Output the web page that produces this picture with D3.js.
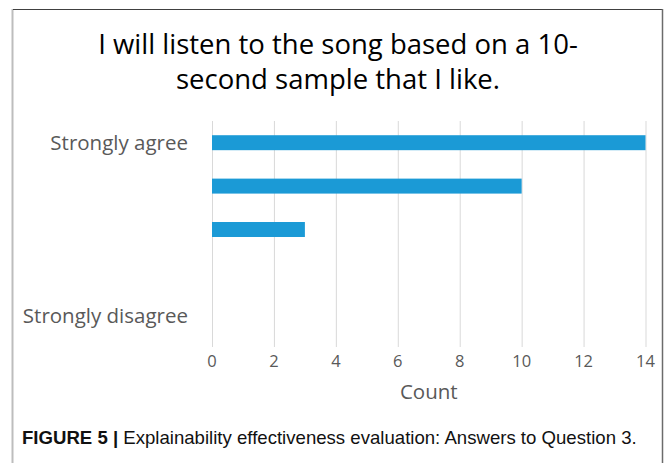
<!DOCTYPE html>
<html>
<head>
<meta charset="utf-8">
<script src="https://cdn.jsdelivr.net/npm/d3@7"></script>
<style>
  body { margin: 0; background: #fff; }
  svg { display: block; }
  .grid line { stroke: #d9d9d9; stroke-width: 1; }
  .axis-label, .tick-label { fill: #595959; font-family: "Open Sans", sans-serif; }
</style>
</head>
<body>
<div id="chart"></div>
<script>
var categories = ["Strongly agree", "Agree", "Neutral", "Disagree", "Strongly disagree"];
var counts = [14, 10, 3, 0, 0];
var shownLabels = ["Strongly agree", "", "", "", "Strongly disagree"];
var xTicks = [0, 2, 4, 6, 8, 10, 12, 14];
var titleLines = ["I will listen to the song based on a 10-", "second sample that I like."];

var width = 665, height = 463;

var svg = d3.select("#chart").append("svg")
    .attr("width", width)
    .attr("height", height);

// frame around the figure
svg.append("line").attr("x1", 12.5).attr("x2", 12.5).attr("y1", 9).attr("y2", height)
    .attr("stroke", "#bdbdbd").attr("stroke-width", 2);
svg.append("line").attr("x1", 13).attr("x2", 663).attr("y1", 9.5).attr("y2", 9.5)
    .attr("stroke", "#404040").attr("stroke-width", 1.2);
svg.append("line").attr("x1", 662.5).attr("x2", 662.5).attr("y1", 9).attr("y2", height)
    .attr("stroke", "#6b6b6b").attr("stroke-width", 1.5);

var xScale = d3.scaleLinear()
    .domain([0, 14])
    .range([212, 645.5]);

var yScale = d3.scaleBand()
    .domain(categories)
    .range([121, 338])
    .paddingInner(0.655)
    .paddingOuter(0.3275);

svg.append("g")
    .attr("class", "grid")
    .selectAll("line")
    .data(xTicks)
    .enter()
    .append("line")
    .attr("x1", function(d) { return xScale(d) + 0.5; })
    .attr("x2", function(d) { return xScale(d) + 0.5; })
    .attr("y1", 121)
    .attr("y2", 347);

svg.selectAll(".bar")
    .data(counts)
    .enter()
    .append("rect")
    .attr("class", "bar")
    .attr("x", xScale(0))
    .attr("y", function(d, i) { return yScale(categories[i]); })
    .attr("width", function(d) { return xScale(d) - xScale(0); })
    .attr("height", yScale.bandwidth())
    .attr("fill", "#1b9ad6");

// category labels
svg.selectAll(".cat-label")
    .data(categories)
    .enter()
    .append("text")
    .attr("class", "tick-label")
    .attr("x", 188)
    .attr("y", function(d) { return yScale(d) + yScale.bandwidth() / 2; })
    .attr("dy", "0.35em")
    .attr("text-anchor", "end")
    .style("font-size", "20.5px")
    .text(function(d, i) { return shownLabels[i]; });

// x tick labels
svg.selectAll(".x-label")
    .data(xTicks)
    .enter()
    .append("text")
    .attr("class", "tick-label")
    .attr("x", function(d) { return xScale(d); })
    .attr("y", 367)
    .attr("text-anchor", "middle")
    .style("font-size", "16.5px")
    .text(function(d) { return d; });

svg.append("text")
    .attr("class", "axis-label")
    .attr("x", (xScale(0) + xScale(14)) / 2)
    .attr("y", 399)
    .attr("text-anchor", "middle")
    .style("font-size", "20.5px")
    .text("Count");

svg.selectAll(".title")
    .data(titleLines)
    .enter()
    .append("text")
    .attr("class", "title")
    .attr("x", 338)
    .attr("y", function(d, i) { return 54 + i * 35; })
    .attr("text-anchor", "middle")
    .style("font-family", "'Open Sans', sans-serif")
    .style("font-size", "27.5px")
    .style("fill", "#000")
    .text(function(d) { return d; });

var caption = svg.append("text")
    .attr("x", 22)
    .attr("y", 444)
    .style("font-family", "'Liberation Sans', Arial, sans-serif")
    .style("font-size", "18.6px")
    .style("fill", "#111");
caption.append("tspan").style("font-weight", "bold").text("FIGURE 5 | ");
caption.append("tspan").text("Explainability effectiveness evaluation: Answers to Question 3.");
</script>
</body>
</html>
